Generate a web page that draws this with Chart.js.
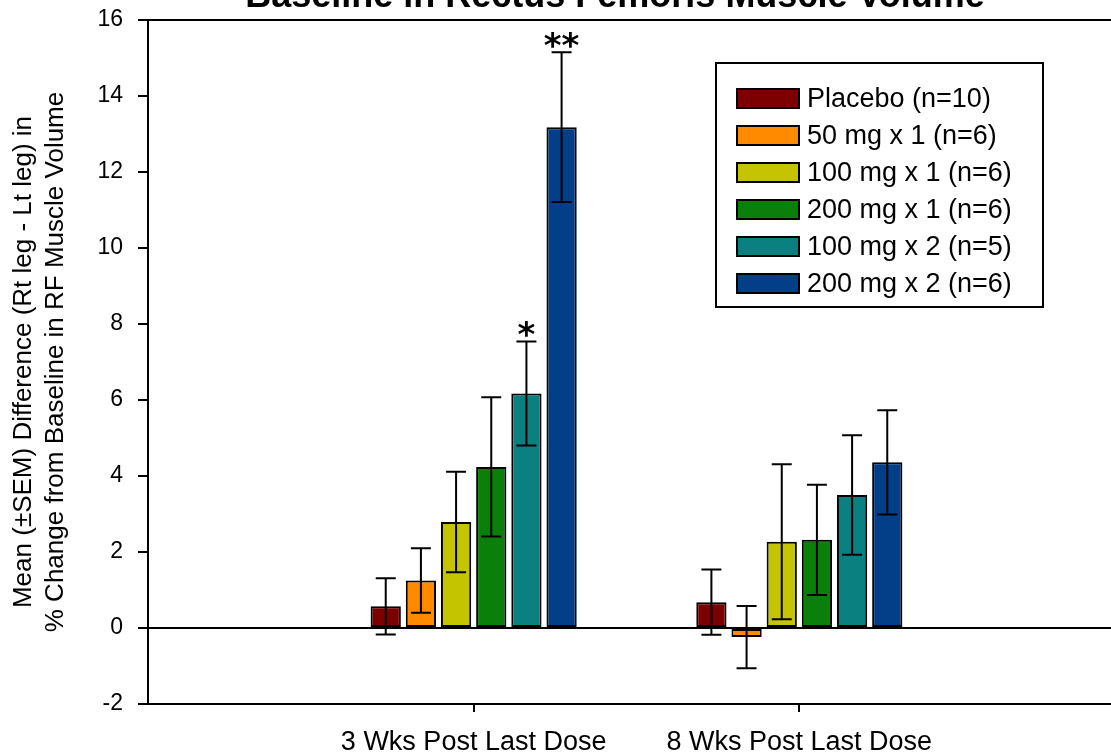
<!DOCTYPE html>
<html><head><meta charset="utf-8">
<script src="https://cdn.jsdelivr.net/npm/chart.js@4/dist/chart.umd.min.js"></script>
<style>
html,body{margin:0;padding:0;overflow:hidden;background:#fff;width:1111px;height:754px}
#wrap{position:absolute;left:0;top:0;width:1130px;height:754px}
</style>
</head><body>
<div id="wrap"><canvas id="c" width="1130" height="754"></canvas></div>
<script>
// ---- data ----
const chartTitle = 'Baseline in Rectus Femoris Muscle Volume';
const categories = ['3 Wks Post Last Dose', '8 Wks Post Last Dose'];
const seriesNames = ['Placebo (n=10)', '50 mg x 1 (n=6)', '100 mg x 1 (n=6)', '200 mg x 1 (n=6)', '100 mg x 2 (n=5)', '200 mg x 2 (n=6)'];
const placebo   = [0.57, 0.68];
const placeboSem= [0.74, 0.86];
const mg50x1    = [1.25, -0.24];
const mg50x1Sem = [0.85, 0.82];
const mg100x1   = [2.79, 2.27];
const mg100x1Sem= [1.32, 2.04];
const mg200x1   = [4.24, 2.32];
const mg200x1Sem= [1.83, 1.45];
const mg100x2   = [6.17, 3.50];
const mg100x2Sem= [1.37, 1.57];
const mg200x2   = [13.18, 4.36];
const mg200x2Sem= [1.97, 1.37];
const mg100x2Sig= ['*', ''];
const mg200x2Sig= ['**', ''];
const yTitle = ['Mean (\u00B1SEM) Difference (Rt leg - Lt leg) in', '% Change from Baseline in RF Muscle Volume'];
const colors = ['#7d0000', '#ff8a00', '#c4c400', '#0a800a', '#0b8080', '#033f88'];

const FONT = "'Liberation Sans', Arial, sans-serif";
const pad = a => [null, ...a, null];
const labels = ['', ...categories, ''];
const values = [placebo, mg50x1, mg100x1, mg200x1, mg100x2, mg200x2];
const sems = [placeboSem, mg50x1Sem, mg100x1Sem, mg200x1Sem, mg100x2Sem, mg200x2Sem];
const sigs = [null, null, null, null, mg100x2Sig, mg200x2Sig];

const datasets = values.map((v, i) => ({
  label: seriesNames[i],
  data: pad(v),
  sem: pad(sems[i]),
  sig: sigs[i] ? pad(sigs[i]) : null,
  backgroundColor: colors[i],
  borderColor: '#000',
  borderWidth: 2,
  borderSkipped: false,
  categoryPercentage: 0.648,
  barPercentage: 0.86
}));

const errorBars = {
  id: 'errorBars',
  afterDatasetsDraw(chart) {
    const ctx = chart.ctx, y = chart.scales.y;
    ctx.save();
    ctx.strokeStyle = '#000'; ctx.fillStyle = '#000'; ctx.lineWidth = 2;
    chart.data.datasets.forEach((ds, i) => {
      const meta = chart.getDatasetMeta(i);
      meta.data.forEach((el, j) => {
        const v = ds.data[j];
        if (v == null) return;
        const e = ds.sem[j];
        const yt = y.getPixelForValue(v + e), yb = y.getPixelForValue(v - e);
        ctx.beginPath();
        ctx.moveTo(el.x, yt); ctx.lineTo(el.x, yb);
        ctx.moveTo(el.x - 10, yt); ctx.lineTo(el.x + 10, yt);
        ctx.moveTo(el.x - 10, yb); ctx.lineTo(el.x + 10, yb);
        ctx.stroke();
        const s = ds.sig && ds.sig[j];
        if (s) {
          ctx.font = "bold 34px 'DejaVu Sans'";
          ctx.textAlign = 'center'; ctx.textBaseline = 'alphabetic';
          ctx.fillText(s, el.x, yt - 15 + 0.58 * 34);
        }
      });
    });
    ctx.restore();
  }
};

const boxLegend = {
  id: 'boxLegend',
  afterDraw(chart) {
    const ctx = chart.ctx;
    ctx.save();
    ctx.lineWidth = 2; ctx.strokeStyle = '#000';
    ctx.strokeRect(716, 63, 327, 244);
    ctx.font = '27px ' + FONT;
    ctx.textAlign = 'left'; ctx.textBaseline = 'middle';
    chart.data.datasets.forEach((ds, i) => {
      const cy = 98.5 + i * 37;
      ctx.fillStyle = ds.backgroundColor;
      ctx.fillRect(737, cy - 9.5, 62, 19);
      ctx.strokeRect(737, cy - 9.5, 62, 19);
      ctx.fillStyle = '#000';
      ctx.fillText(ds.label, 807, cy + 1);
    });
    ctx.restore();
  }
};

const topTitle = {
  id: 'topTitle',
  afterDraw(chart) {
    const ctx = chart.ctx;
    ctx.save();
    ctx.font = 'bold 36px ' + FONT;
    ctx.fillStyle = '#000'; ctx.textAlign = 'center'; ctx.textBaseline = 'alphabetic';
    ctx.fillText(chartTitle, 615, 7);
    ctx.restore();
  }
};

new Chart(document.getElementById('c'), {
  type: 'bar',
  data: { labels, datasets },
  options: {
    responsive: false,
    devicePixelRatio: 1,
    animation: false,
    layout: { padding: { top: 20, right: 5, bottom: 0, left: 0 } },
    plugins: { legend: { display: false }, tooltip: { enabled: false }, title: { display: false } },
    scales: {
      x: {
        type: 'category',
        offset: false,
        afterFit(s) { s.height = 50; s.paddingLeft = 0; s.paddingRight = 0; },
        border: { display: true, color: '#000', width: 2 },
        grid: {
          offset: false,
          drawOnChartArea: false, drawTicks: true, tickLength: 8, lineWidth: 2,
          tickColor: c => (c.index === 1 || c.index === 2) ? '#000' : 'rgba(0,0,0,0)'
        },
        ticks: { color: '#000', font: { family: FONT, size: 27 }, padding: 14, maxRotation: 0, autoSkip: false }
      },
      y: {
        min: -2, max: 16,
        afterFit(s) { s.width = 148; s.paddingTop = 0; s.paddingBottom = 0; },
        border: { display: true, color: '#000', width: 2 },
        grid: {
          drawOnChartArea: true, lineWidth: 2, tickLength: 10, tickColor: '#000', tickWidth: 2,
          color: c => (c.tick && (c.tick.value === 0 || c.tick.value === 16)) ? '#000' : 'rgba(0,0,0,0)'
        },
        ticks: { stepSize: 2, color: '#000', font: { family: FONT, size: 23 }, padding: 15 },
        title: {
          display: true, text: yTitle, color: '#000',
          font: { family: FONT, size: 26, lineHeight: 32 / 26 },
          padding: { top: 8, bottom: 0 }
        }
      }
    }
  },
  plugins: [errorBars, boxLegend, topTitle]
});
</script>
</body></html>
